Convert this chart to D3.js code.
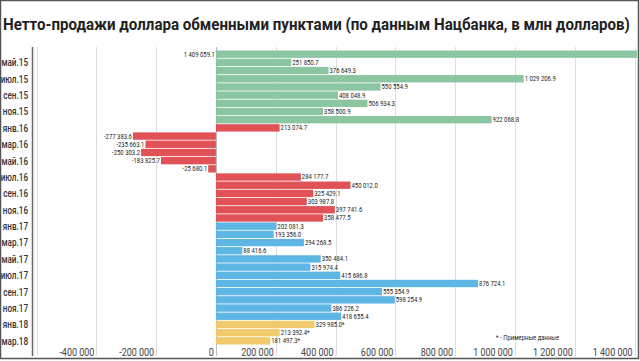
<!DOCTYPE html>
<html>
<head>
<meta charset="utf-8">
<script src="https://cdn.jsdelivr.net/npm/d3@7"></script>
<style>
  body { margin: 0; background: #fff; }
  svg { display: block; font-family: Roboto, "Noto Sans", sans-serif; }
</style>
</head>
<body>
<div id="graph"></div>
<script>
const title = "Нетто-продажи доллара обменными пунктами (по данным Нацбанка, в млн долларов)"

const months = ["апр.15","май.15","июн.15","июл.15","авг.15","сен.15","окт.15","ноя.15","дек.15",
  "янв.16","фев.16","мар.16","апр.16","май.16","июн.16","июл.16","авг.16","сен.16","окт.16","ноя.16","дек.16",
  "янв.17","фев.17","мар.17","апр.17","май.17","июн.17","июл.17","авг.17","сен.17","окт.17","ноя.17","дек.17",
  "янв.18","фев.18","мар.18"]

const values = [1409059.1, 251850.7, 376649.3, 1029206.9, 550554.9, 408048.9, 506934.3, 358500.9, 922068.8,
  213074.7, -277383.6, -235663.1, -250303.2, -183825.7, -25680.1, 284177.7, 450012.0, 325429.1, 303987.8, 397741.6, 358477.5,
  202081.3, 193356.0, 294268.5, 88416.6, 350484.1, 315974.4, 415686.8, 876724.1, 555354.9, 598254.9, 386226.2, 418655.4,
  329985.0, 213392.4, 181497.3]

// 2018 values are preliminary
const estimated = ["янв.18","фев.18","мар.18"]

const yearColors = { "15": "#8cc5a2", "16": "#e15257", "17": "#5db6e4", "18": "#f0ca6c" }

const xTicks = [-400000, -200000, 0, 200000, 400000, 600000, 800000, 1000000, 1200000, 1400000]
const gridTicks = [-600000].concat(xTicks)

const note = "* - Примерные данные"

const width = 640
const height = 361

const svg = d3.select("#graph")
  .append("svg")
  .attr("width", width)
  .attr("height", height)

const data = months.map((m, i) => ({ month: m, value: values[i] }))

const x = d3.scaleLinear().domain([-600000, 1400000]).range([36.5, 634.5])
const y = d3.scaleBand().domain(months).range([50.5, 344.5]).paddingInner(0.1)

// narrow font look: squeeze text horizontally
const squeeze = (px, py, s) => `translate(${px},${py}) scale(${s},1)`

// frame
svg.append("rect")
  .attr("x", 0.5).attr("y", 0.5)
  .attr("width", width - 2).attr("height", height - 3)
  .attr("fill", "none").attr("stroke", "#555").attr("stroke-width", 1.5)

const titleText = svg.append("text")
  .attr("font-size", 17).attr("font-weight", "bold").attr("fill", "#222")
  .text(title)
const titleLen = titleText.node().getComputedTextLength()
titleText.attr("transform", squeeze(3, 30, 627 / titleLen))

// grid
svg.append("g").selectAll("line")
  .data(gridTicks)
  .join("line")
  .attr("x1", d => Math.round(x(d)) + 0.5).attr("x2", d => Math.round(x(d)) + 0.5)
  .attr("y1", 47).attr("y2", 356)
  .attr("stroke", d => d === 0 ? "#bbb" : "#ddd")
  .attr("stroke-width", 1)

// y axis line
svg.append("line")
  .attr("x1", 32.5).attr("x2", 32.5).attr("y1", 47).attr("y2", 356)
  .attr("stroke", "#666").attr("stroke-width", 1.5)

// bars
svg.append("g").selectAll("rect")
  .data(data)
  .join("rect")
  .attr("x", d => x(Math.min(0, d.value)))
  .attr("y", d => y(d.month))
  .attr("width", d => Math.min(x(Math.abs(d.value)) - x(0), 640 - x(0)))
  .attr("height", y.bandwidth())
  .attr("fill", d => yearColors[d.month.slice(-2)])

const fmt = v => d3.format(",.1f")(v).replace(/,/g, " ").replace("−", "-")

// value labels
svg.append("g").selectAll("text")
  .data(data)
  .join("text")
  .attr("transform", d => {
    let px = x(d.value) + 1
    if (d.value < 0) px = x(d.value) - 1
    else if (x(d.value) > 600) px = x(0) - 1
    return squeeze(px, y(d.month) + y.bandwidth() / 2, 0.85)
  })
  .attr("dy", "0.35em")
  .attr("text-anchor", d => (d.value < 0 || x(d.value) > 600) ? "end" : "start")
  .attr("font-size", 7)
  .attr("fill", "#222")
  .text(d => fmt(d.value) + (estimated.includes(d.month) ? "*" : ""))

// month labels (every second one)
svg.append("g").selectAll("text")
  .data(months.filter((m, i) => i % 2 === 1))
  .join("text")
  .attr("transform", d => squeeze(28, y(d) + y.bandwidth() / 2, 0.74))
  .attr("dy", "0.35em")
  .attr("text-anchor", "end")
  .attr("font-size", 11)
  .attr("font-weight", 500)
  .attr("fill", "#333")
  .text(d => d)

// x tick labels, right aligned to the grid line
svg.append("g").selectAll("text")
  .data(xTicks)
  .join("text")
  .attr("transform", d => squeeze(x(d) - 2, 356, 0.78))
  .attr("text-anchor", "end")
  .attr("font-size", 11.5)
  .attr("fill", "#444")
  .text(d => d3.format(",")(d).replace(/,/g, " ").replace("−", "-"))

svg.append("text")
  .attr("transform", squeeze(496, 340, 0.85))
  .attr("font-size", 7).attr("fill", "#222")
  .text(note)
</script>
</body>
</html>
